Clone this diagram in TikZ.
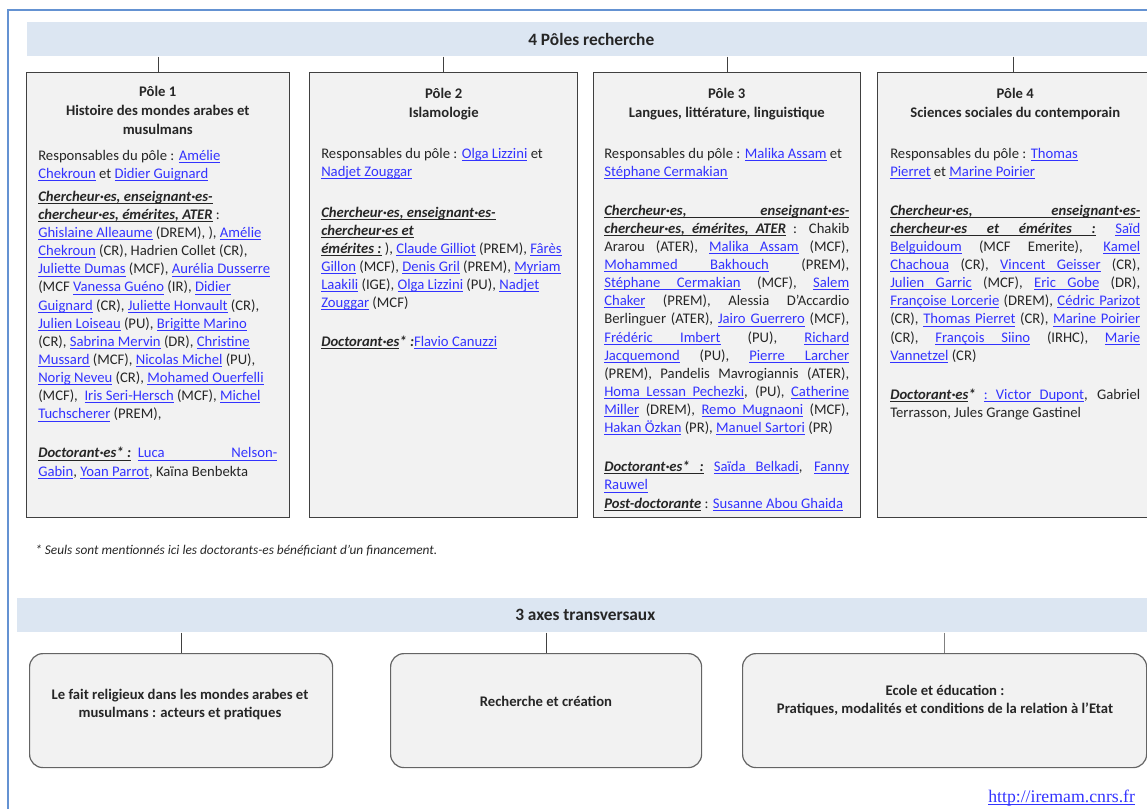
\documentclass[tikz,border=0pt]{standalone}
\usepackage{fontspec}
\setmainfont{Carlito}
\newfontfamily\urlfont{Liberation Serif}

\definecolor{cadrebleu}{RGB}{100,146,210}
\definecolor{bandeaubleu}{RGB}{220,230,242}
\definecolor{fondgris}{RGB}{242,242,242}
\definecolor{traitgris}{RGB}{64,64,64}
\definecolor{axegris}{RGB}{100,100,100}
\definecolor{lienbleu}{RGB}{51,51,255}
\definecolor{textegris}{RGB}{38,38,38}

\def\ulmot#1{\leavevmode\setbox0\hbox{#1}\rlap{\rule[-1.8pt]{\wd0}{0.55pt}}\box0}
\def\ulsp{\leaders\hrule height -1.25pt depth 1.8pt\hskip\fontdimen2\font plus\fontdimen3\font minus\fontdimen4\font}
\def\ulboucle#1 #2\fin{\ulmot{#1}\ifx\relax#2\relax\else\ulsp\ulboucle#2\fin\fi}
\newcommand{\lien}[1]{{\color{lienbleu}\ulboucle#1 \fin}}
\newcommand{\rub}[1]{{\bfseries\itshape\ulboucle#1 \fin}}
\newcommand{\corpsfont}{\fontsize{11}{13.6}\selectfont\tolerance=10000
  \hyphenpenalty=10000\exhyphenpenalty=10000\parindent=0pt\parskip=0pt}
\newcommand{\titrefont}{\centering\bfseries\fontsize{11}{14.5}\selectfont}

\begin{document}
\begin{tikzpicture}[x=0.75pt,y=-0.75pt,
    bandeau/.style={fill=bandeaubleu, inner sep=0pt, anchor=north west,
      minimum height=25.5pt, text=textegris, font=\fontsize{13}{15}\selectfont\bfseries},
    pole/.style={draw=traitgris, fill=fondgris, line width=0.75pt, anchor=north west,
      inner sep=0pt, minimum height=333.75pt},
    corps/.style={anchor=north west, inner sep=0pt, align=justify, text=textegris, font=\corpsfont},
    axe/.style={draw=axegris, fill=fondgris, line width=0.9pt, rounded corners=10pt,
      anchor=north west, inner sep=0pt, minimum height=85.5pt},
    axetxt/.style={align=center, inner sep=0pt, text=textegris, font=\fontsize{11}{13.5}\selectfont\bfseries},
    trait/.style={draw=traitgris, line width=0.75pt}]

      \clip (0,0) rectangle (1147,808);
      \draw[cadrebleu, line width=1pt] (8,10) rectangle (1300,1000);

      \node[bandeau, minimum width=846pt] (poles) at (27,22) {4 Pôles recherche};

      \node[pole, minimum width=197.25pt] (P1) at (26,72) {};
      \node[pole, minimum width=201pt] (P2) at (309,72) {};
      \node[pole, minimum width=200.25pt] (P3) at (593,72) {};
      \node[pole, minimum width=204pt] (P4) at (877,72) {};

      \draw[trait] (poles.south -| P1.north) -- (P1.north)
                   (poles.south -| P2.north) -- (P2.north)
                   (poles.south -| P3.north) -- (P3.north)
                   (poles.south -| P4.north) -- (P4.north);

      \node[corps, text width=179.25pt] (T1) at (38,85.5) {
        {\titrefont Pôle 1\\Histoire des mondes arabes et\\musulmans\par}\vspace{5.4pt}
        Responsables du pôle : \lien{Amélie}\\
        \lien{Chekroun} et \lien{Didier Guignard}\par\vspace{3.75pt}
        \rub{Chercheur·es, enseignant·es-}\\
        \rub{chercheur·es, émérites, ATER} :\\
        \lien{Ghislaine Alleaume} (DREM), ), \lien{Amélie}\\
        \lien{Chekroun} (CR), Hadrien Collet (CR),\\
        \lien{Juliette Dumas} (MCF), \lien{Aurélia Dusserre}\\
        (MCF \lien{Vanessa Guéno} (IR), \lien{Didier}\\
        \lien{Guignard} (CR), \lien{Juliette Honvault} (CR),\\
        \lien{Julien Loiseau} (PU), \lien{Brigitte Marino}\\
        (CR), \lien{Sabrina Mervin} (DR), \lien{Christine}\\
        \lien{Mussard} (MCF), \lien{Nicolas Michel} (PU),\\
        \lien{Norig Neveu} (CR), \lien{Mohamed Ouerfelli}\\
        (MCF), \ \lien{Iris Seri-Hersch} (MCF), \lien{Michel}\\
        \lien{Tuchscherer} (PREM),\par\vspace{15.7pt}
        \rub{Doctorant·es*\ :}\hspace{5pt}\lien{Luca Nelson-}\linebreak
        \lien{Gabin}, \lien{Yoan Parrot}, Kaïna Benbekta};

      \node[corps, text width=183.75pt] (T2) at (321,88) {
        {\titrefont Pôle 2\\Islamologie\par}\vspace{16.5pt}
        Responsables du pôle : \lien{Olga Lizzini} et\\
        \lien{Nadjet Zouggar}\par\vspace{17.1pt}
        \rub{Chercheur·es, enseignant·es-}\\
        \rub{chercheur·es et}\\
        \rub{émérites :} ), \lien{Claude Gilliot} (PREM), \lien{Fârès}\\
        \lien{Gillon} (MCF), \lien{Denis Gril} (PREM), \lien{Myriam}\\
        \lien{Laakili} (IGE), \lien{Olga Lizzini} (PU), \lien{Nadjet}\\
        \lien{Zouggar} (MCF)\par\vspace{15.7pt}
        \rub{Doctorant·es}\textbf{\textit{* :}}\lien{Flavio Canuzzi}};

      \node[corps, text width=183.75pt] (T3) at (604,88) {
        {\titrefont Pôle 3\\Langues, littérature, linguistique\par}\vspace{16.5pt}
        Responsables du pôle : \lien{Malika Assam} et\\
        \lien{Stéphane Cermakian}\par\vspace{15.6pt}
        \rub{Chercheur·es, enseignant·es-}\linebreak
        \rub{chercheur·es, émérites, ATER} : Chakib\linebreak
        Ararou (ATER), \lien{Malika Assam} (MCF),\linebreak
        \lien{Mohammed Bakhouch} (PREM),\linebreak
        \lien{Stéphane Cermakian} (MCF), \lien{Salem}\linebreak
        \lien{Chaker} (PREM), Alessia D’Accardio\linebreak
        Berlinguer (ATER), \lien{Jairo Guerrero} (MCF),\linebreak
        \lien{Frédéric Imbert} (PU), \lien{Richard}\linebreak
        \lien{Jacquemond} (PU), \lien{Pierre Larcher}\linebreak
        (PREM), Pandelis Mavrogiannis (ATER),\linebreak
        \lien{Homa Lessan Pechezki}, (PU), \lien{Catherine}\linebreak
        \lien{Miller} (DREM), \lien{Remo Mugnaoni} (MCF),\linebreak
        \lien{Hakan Özkan} (PR), \lien{Manuel Sartori} (PR)\par\vspace{15.7pt}
        \rub{Doctorant·es* :} \lien{Saïda Belkadi}, \lien{Fanny}\linebreak
        \lien{Rauwel}\\
        \rub{Post-doctorante} : \lien{Susanne Abou Ghaida}};

      \node[corps, text width=187.5pt] (T4) at (890,88) {
        {\titrefont Pôle 4\\Sciences sociales du contemporain\par}\vspace{16.5pt}
        Responsables du pôle : \lien{Thomas}\\
        \lien{Pierret} et \lien{Marine Poirier}\par\vspace{15.6pt}
        \rub{Chercheur·es, enseignant·es-}\linebreak
        \rub{chercheur·es et émérites :} \lien{Saïd}\linebreak
        \lien{Belguidoum} (MCF Emerite), \lien{Kamel}\linebreak
        \lien{Chachoua} (CR), \lien{Vincent Geisser} (CR),\linebreak
        \lien{Julien Garric} (MCF), \lien{Eric Gobe} (DR),\linebreak
        \lien{Françoise Lorcerie} (DREM), \lien{Cédric Parizot}\linebreak
        (CR), \lien{Thomas Pierret} (CR), \lien{Marine Poirier}\linebreak
        (CR), \lien{François Siino} (IRHC), \lien{Marie}\linebreak
        \lien{Vannetzel} (CR)\par\vspace{15.7pt}
        \rub{Doctorant·es}\textbf{\textit{*}} \lien{: Victor Dupont}, Gabriel\linebreak
        Terrasson, Jules Grange Gastinel};

      \node[anchor=west, inner sep=0pt, text=textegris, font=\fontsize{10}{12}\selectfont\itshape]
        (note) at (35,551) {* Seuls sont mentionnés ici les doctorants-es bénéficiant d’un financement.};

      \node[bandeau, minimum width=852pt] (axes) at (17,598) {3 axes transversaux};

      \node[axe, minimum width=227.25pt] (A1) at (29,653) {};
      \node[axe, minimum width=233.25pt] (A2) at (390,653) {};
      \node[axe, minimum width=303pt] (A3) at (742,653) {};

      \draw[trait] (axes.south -| A1.north) -- (A1.north)
                   (axes.south -| A2.north) -- (A2.north);
      \draw[trait, draw=gray] (axes.south -| A3.north) -- (A3.north);

      \node[axetxt] (A1t) at (180,704) {Le fait religieux dans les mondes arabes et\\musulmans : acteurs et pratiques};
      \node[axetxt] (A2t) at (546,701) {Recherche et création};
      \node[axetxt] (A3t) at (945,700) {Ecole et éducation :\\Pratiques, modalités et conditions de la relation à l’Etat};

      \node[anchor=base west, inner sep=0pt, text=lienbleu, font=\urlfont\fontsize{13.3}{15}\selectfont]
        (url) at (988,802) {\ulmot{http://iremam.cnrs.fr}};
    \end{tikzpicture}
\end{document}
